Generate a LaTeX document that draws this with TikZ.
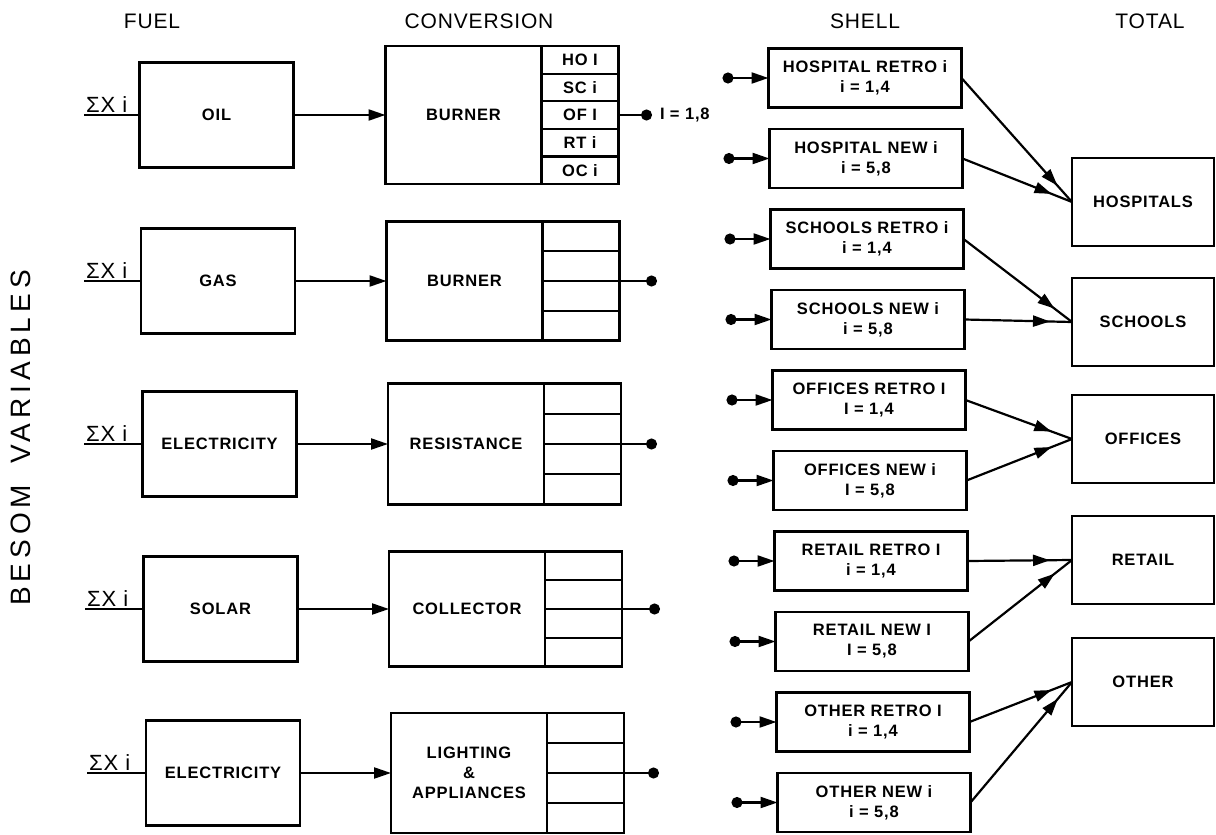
\documentclass[tikz,border=0pt]{standalone}
\usepackage{fontspec}
\setmainfont{Liberation Sans}
\newfontfamily\headfont{Liberation Sans}[LetterSpace=4]
\newfontfamily\labfont{Liberation Sans}[LetterSpace=5]
\newfontfamily\sidefont{Liberation Sans}[LetterSpace=18]
\usetikzlibrary{positioning,arrows.meta,calc,decorations.markings}
\begin{document}
\begin{tikzpicture}[x=1pt,y=-1pt,
    box/.style={draw,line width=2.2pt,outer sep=0pt,inner sep=2pt,align=center,
        font=\labfont\bfseries\fontsize{16.5}{20}\selectfont},
    fuelbox/.style={box,minimum width=154,minimum height=105},
    convbox/.style={box,minimum width=156},
    cellbox/.style={box,minimum width=77},
    shellbox/.style={box,minimum width=193,minimum height=59},
    totalbox/.style={box,minimum width=142,minimum height=88},
    head/.style={font=\headfont\fontsize{21}{24}\selectfont},
    sigma/.style={font=\headfont\fontsize{22}{24}\selectfont,anchor=south west,inner sep=2pt},
    conn/.style={line width=2.2pt},
    tip/.style={conn,-{Triangle[length=17pt,width=11pt]}},
    dotline/.style={conn,-{Circle[length=11pt]}},
    dottip/.style={conn,{Circle[length=11pt]}-{Triangle[length=17pt,width=11pt]}},
    midtip/.style={conn,postaction={decorate},decoration={markings,
        mark=at position -22pt with {\arrow{Triangle[length=17pt,width=11pt]}}}}]
    \useasboundingbox (0,0) rectangle (1216,835);

    \node[head] (fuel) at (152,21) {FUEL};
    \node[head] (conv) at (479,21) {CONVERSION};
    \node[head] (shell) at (865,21) {SHELL};
    \node[head] (total) at (1150,21) {TOTAL};
    \node[rotate=90,font=\sidefont\fontsize{28}{30}\selectfont] (besom) at (21,438) {BESOM\hspace{8pt} VARIABLES};

    \node[fuelbox] (f1) at (216.5,115) {OIL};
    \node[convbox,minimum height=138] (b1) at (463.5,115) {BURNER};
    \node[cellbox,minimum height=27.6,anchor=north west] (ho) at (b1.north east) {HO I};
    \node[cellbox,minimum height=27.6,below=0pt of ho] (sc) {SC i};
    \node[cellbox,minimum height=27.6,below=0pt of sc] (of) {OF I};
    \node[cellbox,minimum height=27.6,below=0pt of of] (rt) {RT i};
    \node[cellbox,minimum height=27.6,below=0pt of rt] (oc) {OC i};
    \coordinate (x1) at (84,115);
    \coordinate (o1) at (652,115);
    \node[sigma] (sx1) at (x1) {ΣX i};
    \draw[conn] (x1) -- (f1.west);
    \draw[tip] (f1.east) -- (b1.west);
    \draw[dotline] (of.east) -- (o1);
    \node[box,draw=none,anchor=west] (range) at (658,115) {I = 1,8};

    \node[fuelbox] (f2) at (218,281) {GAS};
    \node[convbox,minimum height=119] (b2) at (464.5,281) {BURNER};
    \node[cellbox,minimum height=119,anchor=north west] (c2) at (b2.north east) {};
    \coordinate (x2) at (84,281);
    \coordinate (o2) at (657,281);
    \node[sigma] (sx2) at (x2) {ΣX i};
    \draw[conn] (x2) -- (f2.west);
    \draw[tip] (f2.east) -- (b2.west);
    \draw[dotline] (b2.east) -- (o2);

    \node[fuelbox] (f3) at (219.5,444) {ELECTRICITY};
    \node[convbox,minimum height=121] (b3) at (466,444) {RESISTANCE};
    \node[cellbox,minimum height=121,anchor=north west] (c3) at (b3.north east) {};
    \coordinate (x3) at (84,444);
    \coordinate (o3) at (657,444);
    \node[sigma] (sx3) at (x3) {ΣX i};
    \draw[conn] (x3) -- (f3.west);
    \draw[tip] (f3.east) -- (b3.west);
    \draw[dotline] (b3.east) -- (o3);

    \node[fuelbox] (f4) at (220.5,609) {SOLAR};
    \node[convbox,minimum height=115] (b4) at (467,609) {COLLECTOR};
    \node[cellbox,minimum height=115,anchor=north west] (c4) at (b4.north east) {};
    \coordinate (x4) at (85,609);
    \coordinate (o4) at (660,609);
    \node[sigma] (sx4) at (x4) {ΣX i};
    \draw[conn] (x4) -- (f4.west);
    \draw[tip] (f4.east) -- (b4.west);
    \draw[dotline] (b4.east) -- (o4);

    \node[fuelbox] (f5) at (223,773) {ELECTRICITY};
    \node[convbox,minimum height=120] (b5) at (469,773) {LIGHTING\\\&\\APPLIANCES};
    \node[cellbox,minimum height=120,anchor=north west] (c5) at (b5.north east) {};
    \coordinate (x5) at (87,773);
    \coordinate (o5) at (659,773);
    \node[sigma] (sx5) at (x5) {ΣX i};
    \draw[conn] (x5) -- (f5.west);
    \draw[tip] (f5.east) -- (b5.west);
    \draw[dotline] (b5.east) -- (o5);

    \foreach \c in {c2,c3,c4,c5}
        \foreach \f in {0.25,0.75}
            \draw[conn] ($(\c.north west)!\f!(\c.south west)$) -- ($(\c.north east)!\f!(\c.south east)$);

    \node[shellbox] (s1) at (865,78) {HOSPITAL RETRO i\\i = 1,4};
    \node[shellbox,below=21.5pt of s1,xshift=1pt] (s2) {HOSPITAL NEW i\\i = 5,8};
    \node[shellbox,below=21.5pt of s2,xshift=1pt] (s3) {SCHOOLS RETRO i\\i = 1,4};
    \node[shellbox,below=21.5pt of s3,xshift=1pt] (s4) {SCHOOLS NEW i\\i = 5,8};
    \node[shellbox,below=21.5pt of s4,xshift=1pt] (s5) {OFFICES RETRO I\\I = 1,4};
    \node[shellbox,below=21.5pt of s5,xshift=1pt] (s6) {OFFICES NEW i\\I = 5,8};
    \node[shellbox,below=21.5pt of s6,xshift=1pt] (s7) {RETAIL RETRO I\\i = 1,4};
    \node[shellbox,below=21.5pt of s7,xshift=1pt] (s8) {RETAIL NEW I\\I = 5,8};
    \node[shellbox,below=21.5pt of s8,xshift=1pt] (s9) {OTHER RETRO I\\i = 1,4};
    \node[shellbox,below=21.5pt of s9,xshift=1pt] (s10) {OTHER NEW i\\i = 5,8};
    \foreach \s in {1,...,10} {
        \coordinate[left=46pt of s\s] (d\s);
        \draw[dottip] (d\s) -- (s\s.west);
    }

    \node[totalbox] (t1) at (1143,202) {HOSPITALS};
    \node[totalbox] (t2) at (1143,322) {SCHOOLS};
    \node[totalbox] (t3) at (1143,439) {OFFICES};
    \node[totalbox] (t4) at (1143,560) {RETAIL};
    \node[totalbox] (t5) at (1143,682) {OTHER};

    \draw[midtip] (s1.east) -- (t1.west);
    \draw[midtip] (s2.east) -- (t1.west);
    \draw[midtip] (s3.east) -- (t2.west);
    \draw[midtip] (s4.east) -- (t2.west);
    \draw[midtip] (s5.east) -- (t3.west);
    \draw[midtip] (s6.east) -- (t3.west);
    \draw[midtip] (s7.east) -- (t4.west);
    \draw[midtip] (s8.east) -- (t4.west);
    \draw[midtip] (s9.east) -- (t5.west);
    \draw[midtip] (s10.east) -- (t5.west);
\end{tikzpicture}
\end{document}
